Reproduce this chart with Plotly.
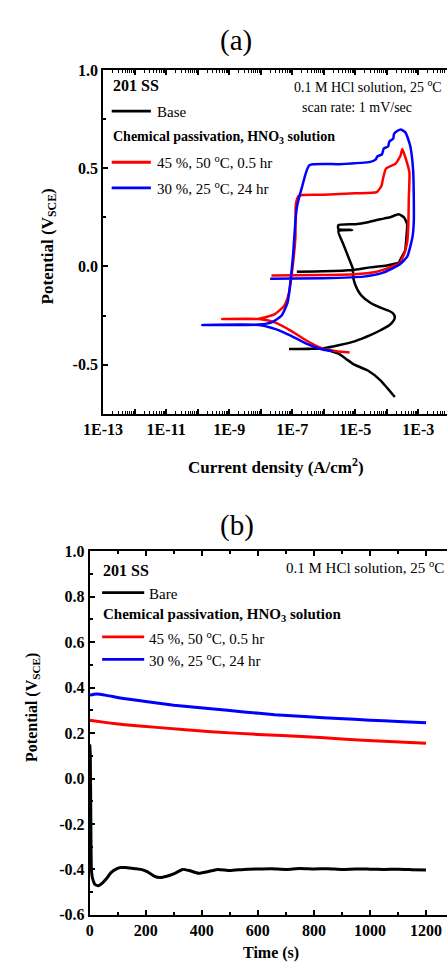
import plotly.graph_objects as go

# ---------------- Panel (a): cyclic polarization ----------------
base_i = [1.8e-4, 6.3e-5, 2.5e-5, 9.3e-6, 5.0e-6, 2.9e-6, 1.6e-6, 1.0e-6, 3.2e-7, 7.9e-8,
          3.2e-7, 1.0e-6, 3.2e-6, 1.0e-5, 3.0e-5, 6.3e-5, 1.2e-4, 1.66e-4, 1.8e-4, 1.6e-4,
          1.2e-4, 6.3e-5, 3.0e-5, 1.6e-5, 1.17e-5, 8.9e-6, 8.3e-6, 6.3e-6, 4.0e-6, 2.9e-6,
          8.0e-6, 2.9e-6, 2.9e-6, 1.0e-5, 2.5e-5, 6.3e-5, 1.26e-4, 2.4e-4, 3.5e-4, 4.4e-4,
          4.2e-4, 3.8e-4, 2.8e-4, 2.4e-4, 1.0e-4, 3.0e-5, 8.3e-6, 1.0e-6, 1.4e-7]
base_v = [-0.665, -0.58, -0.53, -0.50, -0.47, -0.443, -0.43, -0.419, -0.420, -0.421,
          -0.419, -0.416, -0.40, -0.38, -0.35, -0.325, -0.30, -0.275, -0.258, -0.24,
          -0.227, -0.21, -0.185, -0.15, -0.118, -0.068, -0.01, 0.04, 0.12, 0.18,
          0.185, 0.19, 0.21, 0.215, 0.225, 0.24, 0.25, 0.265, 0.25, 0.215,
          0.15, 0.08, 0.04, 0.02, 0.005, -0.005, -0.018, -0.025, -0.027]

hno3_45_i = [6.6e-6, 2.5e-6, 9.1e-7, 2.8e-7, 8.9e-8, 2.8e-8, 8.7e-9, 6.0e-10, 8.7e-9, 2.8e-8,
             5.6e-8, 7.9e-8, 1.0e-7, 1.26e-7, 1.3e-7, 1.6e-7, 1.0e-6, 1.0e-5, 4.8e-5, 6.8e-5,
             7.6e-5, 9.5e-5, 1.9e-4, 2.75e-4, 3.1e-4, 3.7e-4, 5.2e-4, 5.0e-4, 4.8e-4, 4.4e-4,
             3.5e-4, 2.4e-4, 7.6e-5, 4.8e-5, 9.3e-6, 1.0e-6, 2.2e-8]
hno3_45_v = [-0.438, -0.432, -0.418, -0.377, -0.327, -0.285, -0.268, -0.268, -0.266, -0.243,
             -0.20, -0.135, -0.018, 0.148, 0.315, 0.36, 0.365, 0.372, 0.378, 0.41,
             0.448, 0.498, 0.523, 0.565, 0.598, 0.565, 0.48, 0.35, 0.20, 0.12,
             0.06, 0.015, -0.018, -0.027, -0.040, -0.044, -0.046]

hno3_30_i = [2.0e-6, 8.0e-7, 2.8e-7, 8.9e-8, 2.8e-8, 8.7e-9, 1.4e-10, 8.7e-9, 2.2e-8, 4.5e-8,
             7.1e-8, 8.9e-8, 1.07e-7, 1.26e-7, 1.4e-7, 2.0e-7, 3.5e-7, 3.0e-6, 3.0e-5, 4.5e-5,
             5.0e-5, 7.0e-5, 8.0e-5, 1.1e-4, 1.2e-4, 1.6e-4, 1.7e-4, 2.2e-4, 2.75e-4, 3.9e-4,
             5.5e-4, 6.9e-4, 7.2e-4, 6.5e-4, 4.4e-4, 2.4e-4, 7.6e-5, 1.86e-5, 1.0e-6, 2.0e-8]
hno3_30_v = [-0.432, -0.42, -0.393, -0.352, -0.318, -0.298, -0.298, -0.296, -0.285, -0.252,
             -0.185, -0.068, 0.065, 0.23, 0.30, 0.398, 0.515, 0.52, 0.532, 0.545,
             0.56, 0.57, 0.60, 0.61, 0.635, 0.65, 0.675, 0.69, 0.697, 0.682,
             0.615, 0.48, 0.23, 0.148, 0.048, 0.007, -0.032, -0.052, -0.060, -0.063]

# ---------------- Panel (b): open-circuit potential ----------------
bare_t = [0, 2, 4, 6, 10, 18, 30, 45, 60, 75, 92, 110, 126, 150, 183, 205, 228, 251, 275, 297,
          315, 331, 355, 388, 420, 456, 500, 550, 600, 650, 700, 750, 800, 850, 900, 950,
          1000, 1050, 1100, 1150, 1200]
bare_v = [0.15, 0.10, -0.20, -0.40, -0.44, -0.465, -0.472, -0.46, -0.44, -0.415, -0.40, -0.392,
          -0.392, -0.395, -0.40, -0.41, -0.428, -0.436, -0.43, -0.421, -0.41, -0.40, -0.405,
          -0.417, -0.41, -0.40, -0.405, -0.400, -0.398, -0.397, -0.400, -0.396, -0.398, -0.397,
          -0.400, -0.398, -0.399, -0.400, -0.399, -0.401, -0.403]
ocp45_t = [0, 60, 126, 250, 433, 600, 774, 900, 1050, 1200]
ocp45_v = [0.256, 0.246, 0.237, 0.224, 0.206, 0.194, 0.184, 0.174, 0.164, 0.155]
ocp30_t = [0, 24, 60, 120, 206, 300, 433, 550, 660, 780, 887, 1000, 1100, 1200]
ocp30_v = [0.367, 0.372, 0.366, 0.352, 0.338, 0.323, 0.307, 0.293, 0.281, 0.272, 0.264, 0.257,
           0.251, 0.246]

decade_ticks = [10.0 ** e for e in range(-13, -1)]
decade_text = ["1E%d" % e if (e % 2 == 1) else "" for e in range(-13, -1)]
minor_ticks = [m * 10.0 ** e for e in range(-13, -2) for m in range(2, 10)]

W, H = 447, 971
FONT = "'Liberation Serif', 'Times New Roman', Times, serif"
BLACK, RED, BLUE = "#000000", "#ff0000", "#0000ff"

fig = go.Figure()
def curve(x, y, color, width, xa, ya):
    fig.add_trace(go.Scatter(x=x, y=y, mode="lines",
                             line=dict(color=color, width=width, shape="spline", smoothing=0.5),
                             xaxis=xa, yaxis=ya, showlegend=False))

curve(base_i, base_v, BLACK, 2.5, "x", "y")
curve(hno3_45_i, hno3_45_v, RED, 2.5, "x", "y")
curve(hno3_30_i, hno3_30_v, BLUE, 2.5, "x", "y")
curve(bare_t, bare_v, BLACK, 3, "x2", "y2")
curve(ocp45_t, ocp45_v, RED, 3, "x2", "y2")
curve(ocp30_t, ocp30_v, BLUE, 3, "x2", "y2")

def px(x):
    return x / W

def py(y):
    return 1 - y / H

tickfont = dict(family=FONT, size=16, color="black", weight="bold")
axis_common = dict(showline=True, linecolor="black", linewidth=2, showgrid=False, zeroline=False,
                   ticks="inside", tickcolor="black", tickwidth=1.5, tickfont=tickfont)

fig.update_layout(
    width=W, height=H, margin=dict(l=0, r=0, t=0, b=0),
    plot_bgcolor="white", paper_bgcolor="white",
    font=dict(family=FONT, color="black"),
    xaxis=dict(axis_common, type="log", range=[-13, -2.09], domain=[px(87), 1.0], anchor="y",
               tickmode="array", tickvals=decade_ticks, ticktext=decade_text, ticklen=5,
               mirror="ticks",
               minor=dict(tickmode="array", tickvals=minor_ticks, ticks="inside", ticklen=3,
                          tickcolor="black", tickwidth=1)),
    yaxis=dict(axis_common, range=[-0.75, 1.0], domain=[py(413), py(63)], anchor="x",
               tickmode="array", tickvals=[-0.5, 0.0, 0.5, 1.0], ticktext=["-0.5", "0.0", "0.5", "1.0"],
               ticklen=5, minor=dict(tickmode="array", tickvals=[-0.25, 0.25, 0.75], ticks="inside",
                                     ticklen=3, tickcolor="black", tickwidth=1.5)),
    xaxis2=dict(axis_common, range=[0, 1275], domain=[px(73), 1.0], anchor="y2",
                tickmode="array", tickvals=[0, 200, 400, 600, 800, 1000, 1200], ticklen=5,
                mirror="ticks",
                minor=dict(tickmode="array", tickvals=[100, 300, 500, 700, 900, 1100], ticks="inside",
                           ticklen=3, tickcolor="black", tickwidth=1.5)),
    yaxis2=dict(axis_common, range=[-0.6, 1.0], domain=[py(923), py(553)], anchor="x2",
                tickmode="array", tickvals=[-0.6, -0.4, -0.2, 0.0, 0.2, 0.4, 0.6, 0.8, 1.0],
                ticktext=["-0.6", "-0.4", "-0.2", "0.0", "0.2", "0.4", "0.6", "0.8", "1.0"], ticklen=5,
                minor=dict(tickmode="array", tickvals=[-0.5, -0.3, -0.1, 0.1, 0.3, 0.5, 0.7, 0.9],
                           ticks="inside", ticklen=3, tickcolor="black", tickwidth=1.5)),
)

anns = []
def ann(text, x, y, size=15, bold=False, xanchor="left", angle=0):
    anns.append(dict(text=text, x=px(x), y=py(y), xref="paper", yref="paper", showarrow=False,
                     xanchor=xanchor, yanchor="middle", textangle=angle,
                     font=dict(family=FONT, size=size, color="black",
                               weight="bold" if bold else "normal")))

# panel titles
ann("(a)", 226, 33, size=29, xanchor="center")
ann("(b)", 227, 527, size=29, xanchor="center")
# axis titles
ann("Potential (V<sub>SCE</sub>)", 30, 243, size=17, bold=True, xanchor="center", angle=-90)
ann("Current density (A/cm<sup>2</sup>)", 268, 466, size=17, bold=True, xanchor="center")
ann("Potential (V<sub>SCE</sub>)", 13, 712, size=16, bold=True, xanchor="center", angle=-90)
ann("Time (s)", 263, 962, size=16, bold=True, xanchor="center")

# panel (a) legend text
ann("201 SS", 95, 79, size=16, bold=True)
ann("Base", 141, 106, size=15)
ann("Chemical passivation, HNO<sub>3</sub> solution", 95, 132, size=14, bold=True)
ann("45 %, 50 <sup>o</sup>C, 0.5 hr", 141, 157, size=15)
ann("30 %, 25 <sup>o</sup>C, 24 hr", 141, 183, size=15)
ann("0.1 M HCl solution, 25 <sup>o</sup>C", 444, 79, size=14, xanchor="right")
ann("scan rate: 1 mV/sec", 293, 101, size=14)

# panel (b) legend text
ann("201 SS", 85, 573, size=16, bold=True)
ann("Bare", 133, 596, size=15)
ann("Chemical passivation, HNO<sub>3</sub> solution", 85, 618, size=15, bold=True)
ann("45 %, 50 <sup>o</sup>C, 0.5 hr", 133, 641, size=15)
ann("30 %, 25 <sup>o</sup>C, 24 hr", 133, 664, size=15)
ann("0.1 M HCl solution, 25 <sup>o</sup>C", 446, 569, size=15, xanchor="right")

shapes = []
def sample(x0, x1, y, color):
    shapes.append(dict(type="line", xref="paper", yref="paper", x0=px(x0), x1=px(x1),
                       y0=py(y), y1=py(y), line=dict(color=color, width=2.8)))

sample(96, 137, 105, BLACK)
sample(96, 137, 157, RED)
sample(96, 137, 183, BLUE)
sample(86, 130, 595, BLACK)
sample(86, 130, 640, RED)
sample(86, 130, 663, BLUE)

fig.update_layout(annotations=anns, shapes=shapes)
fig.write_html("out.html")
